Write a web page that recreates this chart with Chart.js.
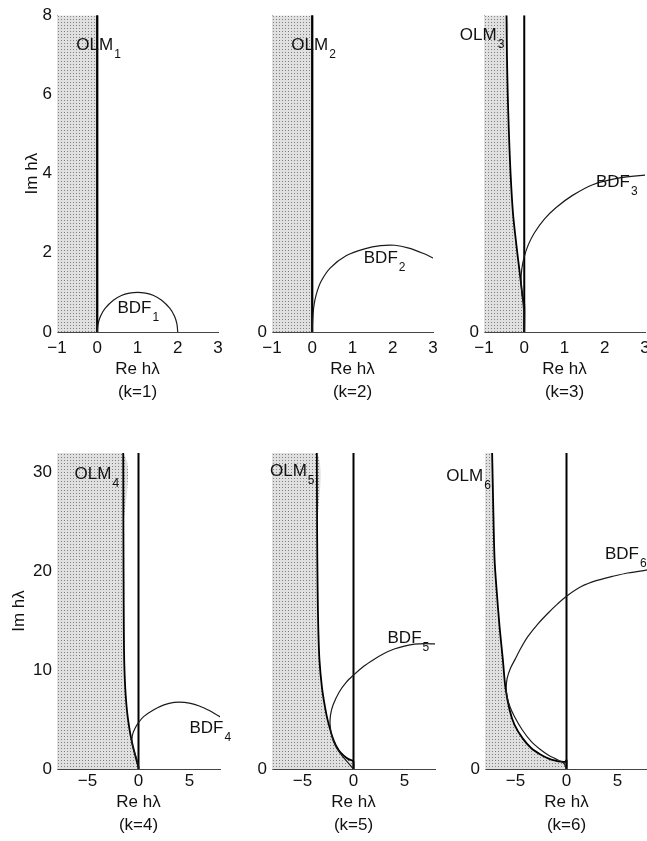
<!DOCTYPE html>
<html>
<head>
<meta charset="utf-8">
<script src="https://cdn.jsdelivr.net/npm/chart.js@4.4.1/dist/chart.umd.min.js"></script>
<style>
  html, body { margin: 0; padding: 0; background: #fff; overflow: hidden; width: 647px; height: 841px; }
  canvas { position: absolute; }
</style>
</head>
<body>
<canvas id="k1" width="238" height="404" style="left:0px;top:0px"></canvas>
<canvas id="k2" width="238" height="404" style="left:215px;top:0px"></canvas>
<canvas id="k3" width="238" height="404" style="left:427px;top:0px"></canvas>
<canvas id="k4" width="240" height="421" style="left:0px;top:420px"></canvas>
<canvas id="k5" width="240" height="421" style="left:215px;top:420px"></canvas>
<canvas id="k6" width="240" height="421" style="left:428px;top:420px"></canvas>
<script>
// tick labels
const xTicksTop = [-1, 0, 1, 2, 3];
const xTicksBottom = [-5, 0, 5];
const yTicksK1 = [0, 2, 4, 6, 8];
const yTicksK4 = [0, 10, 20, 30];
const yTicksZero = [0];

// OLM stability boundaries [Re, Im], from top to bottom
const olm1 = [[0, 8], [0, 0]];
const olm2 = [[0, 8], [0, 0]];
const olm3 = [[-0.44, 8], [-0.43, 7], [-0.41, 6], [-0.38, 5], [-0.34, 4], [-0.28, 3], [-0.19, 2.15],
              [-0.11, 1.48], [-0.04, 0.9], [0, 0.7], [0, 0]];
const olm4 = [[-1.5, 32], [-1.48, 24], [-1.45, 16], [-1.42, 12], [-1.36, 9.5], [-1.26, 7.5], [-1.1, 5.6],
              [-0.88, 4.0], [-0.7, 3.0], [-0.5, 2.1], [-0.3, 1.3], [-0.12, 0.6], [0, 0.2], [0, 0]];
const olm5 = [[-3.6, 32], [-3.57, 24], [-3.52, 18], [-3.45, 14], [-3.34, 11], [-3.1, 8.3], [-2.8, 6.3],
              [-2.5, 4.8], [-1.95, 2.9], [-1.45, 1.9], [-0.96, 1.35], [-0.5, 1.0], [-0.1, 0.85], [0, 0.7], [0, 0]];
const olm6 = [[-7.3, 32], [-7.2, 27], [-7.06, 21.2], [-6.85, 18], [-6.57, 14.4], [-6.24, 11], [-6.0, 8.3],
              [-5.59, 6.0], [-5.1, 4.46], [-4.3, 3.1], [-3.45, 2.1], [-2.6, 1.5], [-1.8, 1.08], [-1.1, 0.85],
              [-0.5, 0.74], [-0.1, 0.75], [0, 0.9], [0, 0]];

// BDF boundary loci [Re, Im]
const bdf1 = [[0, 0], [0.02, 0.2], [0.08, 0.4], [0.2, 0.6], [0.4, 0.8], [0.6, 0.92], [0.8, 0.98], [1, 1],
              [1.2, 0.98], [1.4, 0.92], [1.6, 0.8], [1.8, 0.6], [1.92, 0.4], [1.98, 0.2], [2, 0]];
const bdf2 = [[0, 0], [0.01, 0.3], [0.04, 0.65], [0.1, 0.95], [0.22, 1.28], [0.45, 1.62], [0.85, 1.93],
              [1.3, 2.1], [1.7, 2.18], [2.05, 2.19], [2.4, 2.12], [2.75, 1.99], [3.0, 1.87], [3.2, 1.77]];
const bdf3 = [[0, 0], [-0.01, 0.5], [-0.06, 1.0], [-0.08, 1.3], [-0.06, 1.6], [0, 1.9], [0.1, 2.2], [0.25, 2.5],
              [0.5, 2.85], [0.8, 3.15], [1.2, 3.45], [1.7, 3.72], [2.3, 3.88], [3.0, 3.96], [3.3, 3.97]];
const bdf4 = [[0, 0], [-0.05, 0.5], [-0.17, 1.0], [-0.4, 1.7], [-0.6, 2.4], [-0.65, 3.0], [-0.55, 3.6],
              [-0.3, 4.2], [0, 4.7], [0.5, 5.3], [1.5, 6.0], [2.5, 6.5], [3.5, 6.75], [4.5, 6.75], [5.5, 6.55],
              [6.5, 6.15], [7.5, 5.6], [8.3, 5.1]];
const bdf5 = [[0, 0], [-0.5, 0.6], [-1.1, 1.3], [-1.7, 2.2], [-2.1, 3.2], [-2.3, 4.5], [-2.25, 5.5], [-2.0, 6.5],
              [-1.4, 7.8], [-0.7, 8.8], [0, 9.5], [1, 10.4], [2, 11.1], [3, 11.7], [4, 12.15], [5, 12.45],
              [6, 12.65], [7, 12.7], [8.3, 12.65]];
const bdf6 = [[0, 0], [-0.2, 0.5], [-0.5, 0.75], [-1.1, 1.05], [-1.8, 1.42], [-2.6, 2.0], [-3.45, 2.77],
              [-4.3, 3.9], [-5.1, 5.3], [-5.55, 6.3], [-5.82, 7.3], [-5.92, 8.2], [-5.82, 9.2], [-5.5, 10.2],
              [-5.05, 11.1], [-4.5, 12.2], [-3.8, 13.4], [-2.8, 14.7], [-1.8, 15.8], [-0.9, 16.7], [0, 17.5],
              [1.5, 18.5], [3, 19.1], [4.5, 19.5], [6, 19.85], [8.3, 20.2]];

Chart.defaults.font.family = '"Liberation Sans", Arial, sans-serif';
Chart.defaults.font.size = 17;
Chart.defaults.color = '#111';

const FONT = '"Liberation Sans", Arial, sans-serif';

// OLM_k / BDF_k labels with subscripts
const labelPlugin = {
  id: 'curveLabels',
  afterDraw(chart, args, opts) {
    const ctx = chart.ctx;
    const sx = chart.scales.x, sy = chart.scales.y;
    (opts.items || []).forEach(it => {
      const px = sx.getPixelForValue(it.x);
      const py = sy.getPixelForValue(it.y);
      ctx.save();
      ctx.fillStyle = '#111';
      ctx.textBaseline = 'alphabetic';
      ctx.font = '17px ' + FONT;
      ctx.fillText(it.t, px, py);
      const w = ctx.measureText(it.t).width;
      ctx.font = '12px ' + FONT;
      ctx.fillText(it.s, px + w + 1, py + 8);
      ctx.restore();
    });
  }
};

function stipple(canvas) {
  const tile = document.createElement('canvas');
  tile.width = 3; tile.height = 3;
  const g = tile.getContext('2d');
  g.fillStyle = '#e0e0e0';
  g.fillRect(0, 0, 3, 3);
  g.fillStyle = '#808080';
  g.fillRect(1, 1, 1, 1);
  return canvas.getContext('2d').createPattern(tile, 'repeat');
}

const toPts = arr => arr.map(p => ({ x: p[0], y: p[1] }));
const minus = v => (v < 0 ? '\u2212' + Math.abs(v) : String(v));

const topRow = { padTop: 14, tickPad: 6, titlePadBottom: 0, yTitlePad: 22 };
const bottomRow = { padTop: 33, tickPad: 2, titlePadBottom: 4, yTitlePad: 9 };

const panels = [
  { id: 'k1', k: 1, row: topRow, xr: [-1, 3], yr: [0, 8], xt: xTicksTop, yt: yTicksK1, olm: olm1, bdf: bdf1, yTitle: true,
    labels: [{ t: 'OLM', s: '1', x: -0.52, y: 7.12 }, { t: 'BDF', s: '1', x: 0.5, y: 0.48 }] },
  { id: 'k2', k: 2, row: topRow, xr: [-1, 3], yr: [0, 8], xt: xTicksTop, yt: yTicksZero, olm: olm2, bdf: bdf2, yTitle: false,
    labels: [{ t: 'OLM', s: '2', x: -0.52, y: 7.12 }, { t: 'BDF', s: '2', x: 1.28, y: 1.74 }] },
  { id: 'k3', k: 3, row: topRow, xr: [-1, 3], yr: [0, 8], xt: xTicksTop, yt: yTicksZero, olm: olm3, bdf: bdf3, yTitle: false,
    labels: [{ t: 'OLM', s: '3', x: -1.6, y: 7.37 }, { t: 'BDF', s: '3', x: 1.78, y: 3.67 }] },
  { id: 'k4', k: 4, row: bottomRow, xr: [-8, 8], yr: [0, 32], xt: xTicksBottom, yt: yTicksK4, olm: olm4, bdf: bdf4, yTitle: true,
    labels: [{ t: 'OLM', s: '4', x: -6.27, y: 29.4 }, { t: 'BDF', s: '4', x: 5.0, y: 3.65 }] },
  { id: 'k5', k: 5, row: bottomRow, xr: [-8, 8], yr: [0, 32], xt: xTicksBottom, yt: yTicksZero, olm: olm5, bdf: bdf5, yTitle: false,
    labels: [{ t: 'OLM', s: '5', x: -8.2, y: 29.7 }, { t: 'BDF', s: '5', x: 3.34, y: 12.8 }] },
  { id: 'k6', k: 6, row: bottomRow, xr: [-8, 8], yr: [0, 32], xt: xTicksBottom, yt: yTicksZero, olm: olm6, bdf: bdf6, yTitle: false,
    labels: [{ t: 'OLM', s: '6', x: -11.8, y: 29.2 }, { t: 'BDF', s: '6', x: 3.77, y: 21.3 }] }
];

panels.forEach(p => {
  const canvas = document.getElementById(p.id);
  const xMin = p.xr[0], yMax = p.yr[1];
  // shaded stability region: left edge up to the OLM boundary, filled down to Im = 0
  const shade = [{ x: xMin, y: yMax }].concat(toPts(p.olm));

  new Chart(canvas, {
    type: 'line',
    data: {
      datasets: [
        { data: toPts(p.bdf), borderColor: '#1a1a1a', borderWidth: 1.2, pointRadius: 0, tension: 0.3, fill: false },
        { data: toPts(p.olm), borderColor: '#000', borderWidth: 1.8, pointRadius: 0, tension: 0.3, fill: false },
        { data: [{ x: 0, y: 0 }, { x: 0, y: yMax }], borderColor: '#000', borderWidth: 2, pointRadius: 0, fill: false },
        { data: shade, borderWidth: 0, borderColor: 'rgba(0,0,0,0)', pointRadius: 0, tension: 0.3,
          fill: 'origin', backgroundColor: stipple(canvas) }
      ]
    },
    options: {
      responsive: false,
      animation: false,
      events: [],
      layout: { padding: { top: p.row.padTop, right: 20, bottom: 0, left: 0 } },
      plugins: {
        legend: { display: false },
        tooltip: { enabled: false },
        curveLabels: { items: p.labels }
      },
      scales: {
        x: {
          type: 'linear',
          min: p.xr[0], max: p.xr[1],
          afterBuildTicks: axis => { axis.ticks = p.xt.map(v => ({ value: v })); },
          afterFit: axis => { axis.height = 72; },
          grid: { display: false, drawTicks: false },
          border: { display: true, color: '#444', width: 1 },
          ticks: { padding: p.row.tickPad, maxRotation: 0, autoSkip: false, callback: v => minus(v) },
          title: {
            display: true,
            text: ['Re h\u03bb', '(k=' + p.k + ')'],
            font: { size: 17, lineHeight: 1.35 },
            padding: { top: 0, bottom: p.row.titlePadBottom }
          }
        },
        y: {
          type: 'linear',
          min: p.yr[0], max: p.yr[1],
          afterBuildTicks: axis => { axis.ticks = p.yt.map(v => ({ value: v })); },
          afterFit: axis => { axis.width = 57; },
          grid: { display: false, drawTicks: false },
          border: { display: true, color: '#888', width: 1 },
          ticks: { padding: 5, autoSkip: false },
          title: {
            display: p.yTitle,
            text: 'Im h\u03bb',
            font: { size: 17 },
            padding: { top: p.row.yTitlePad, bottom: 0 }
          }
        }
      }
    },
    plugins: [labelPlugin]
  });
});
</script>
</body>
</html>
